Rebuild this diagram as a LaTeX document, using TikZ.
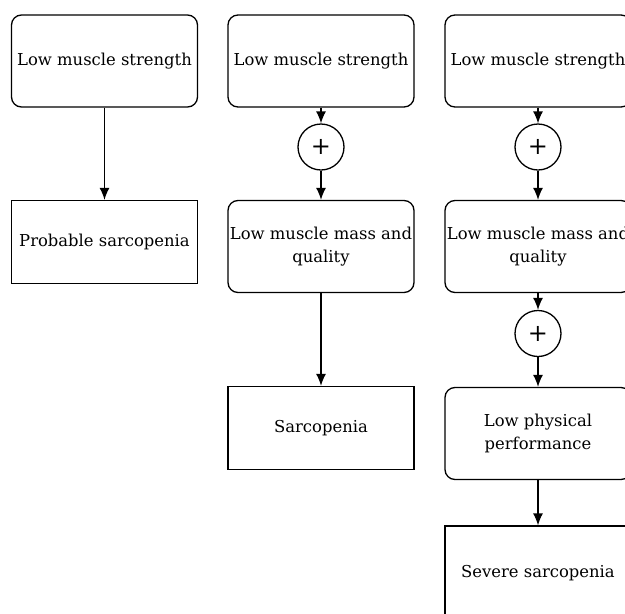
\documentclass[tikz,border=0pt]{standalone}
\usepackage{fontspec}
\setmainfont{DejaVu Serif}
\usetikzlibrary{arrows.meta}

\begin{document}
\begin{tikzpicture}[x=1pt, y=-1pt,
    every node/.style={font=\fontsize{16.4}{23}\selectfont, align=center, inner sep=0pt},
    stepbox/.style={draw, line width=1.3pt, rounded corners=10pt, minimum width=186pt, minimum height=92pt},
    resbox/.style={draw, line width=1.3pt, minimum width=186pt, minimum height=83pt},
    plus/.style={draw, circle, line width=1.3pt, minimum size=46pt, font=\fontsize{24}{24}\selectfont},
    flow/.style={line width=1.3pt, -{Latex[length=12pt, width=10pt]}}]
  %tikz  criteri diagnostici, tre colonne
  \useasboundingbox (0,0) rectangle (625,614);
  \clip (0,0) rectangle (625,614);
  % colonna 1
  \node[stepbox] (s1) at (104.5,61) {Low muscle strength};
  \node[resbox] (prob) at (104.5,242) {Probable sarcopenia};
  \draw[flow] (s1) -- (prob);
  % colonna 2
  \node[stepbox] (s2) at (321,61) {Low muscle strength};
  \node[plus] (p2) at (321,147) {+};
  \node[stepbox] (m2) at (321,246.5) {Low muscle mass and\\quality};
  \node[resbox] (sarc) at (321,428) {Sarcopenia};
  \draw[flow] (s2) -- (p2);
  \draw[flow] (p2) -- (m2);
  \draw[flow] (m2) -- (sarc);
  % colonna 3
  \node[stepbox] (s3) at (538,61) {Low muscle strength};
  \node[plus] (p3) at (538,147) {+};
  \node[stepbox] (m3) at (538,246.5) {Low muscle mass and\\quality};
  \node[plus] (q3) at (538,333.5) {+};
  \node[stepbox] (f3) at (538,433.5) {Low physical\\performance};
  \node[resbox, minimum height=94pt] (sev) at (538,573) {Severe sarcopenia};
  \draw[flow] (s3) -- (p3);
  \draw[flow] (p3) -- (m3);
  \draw[flow] (m3) -- (q3);
  \draw[flow] (q3) -- (f3);
  \draw[flow] (f3) -- (sev);
\end{tikzpicture}
\end{document}
